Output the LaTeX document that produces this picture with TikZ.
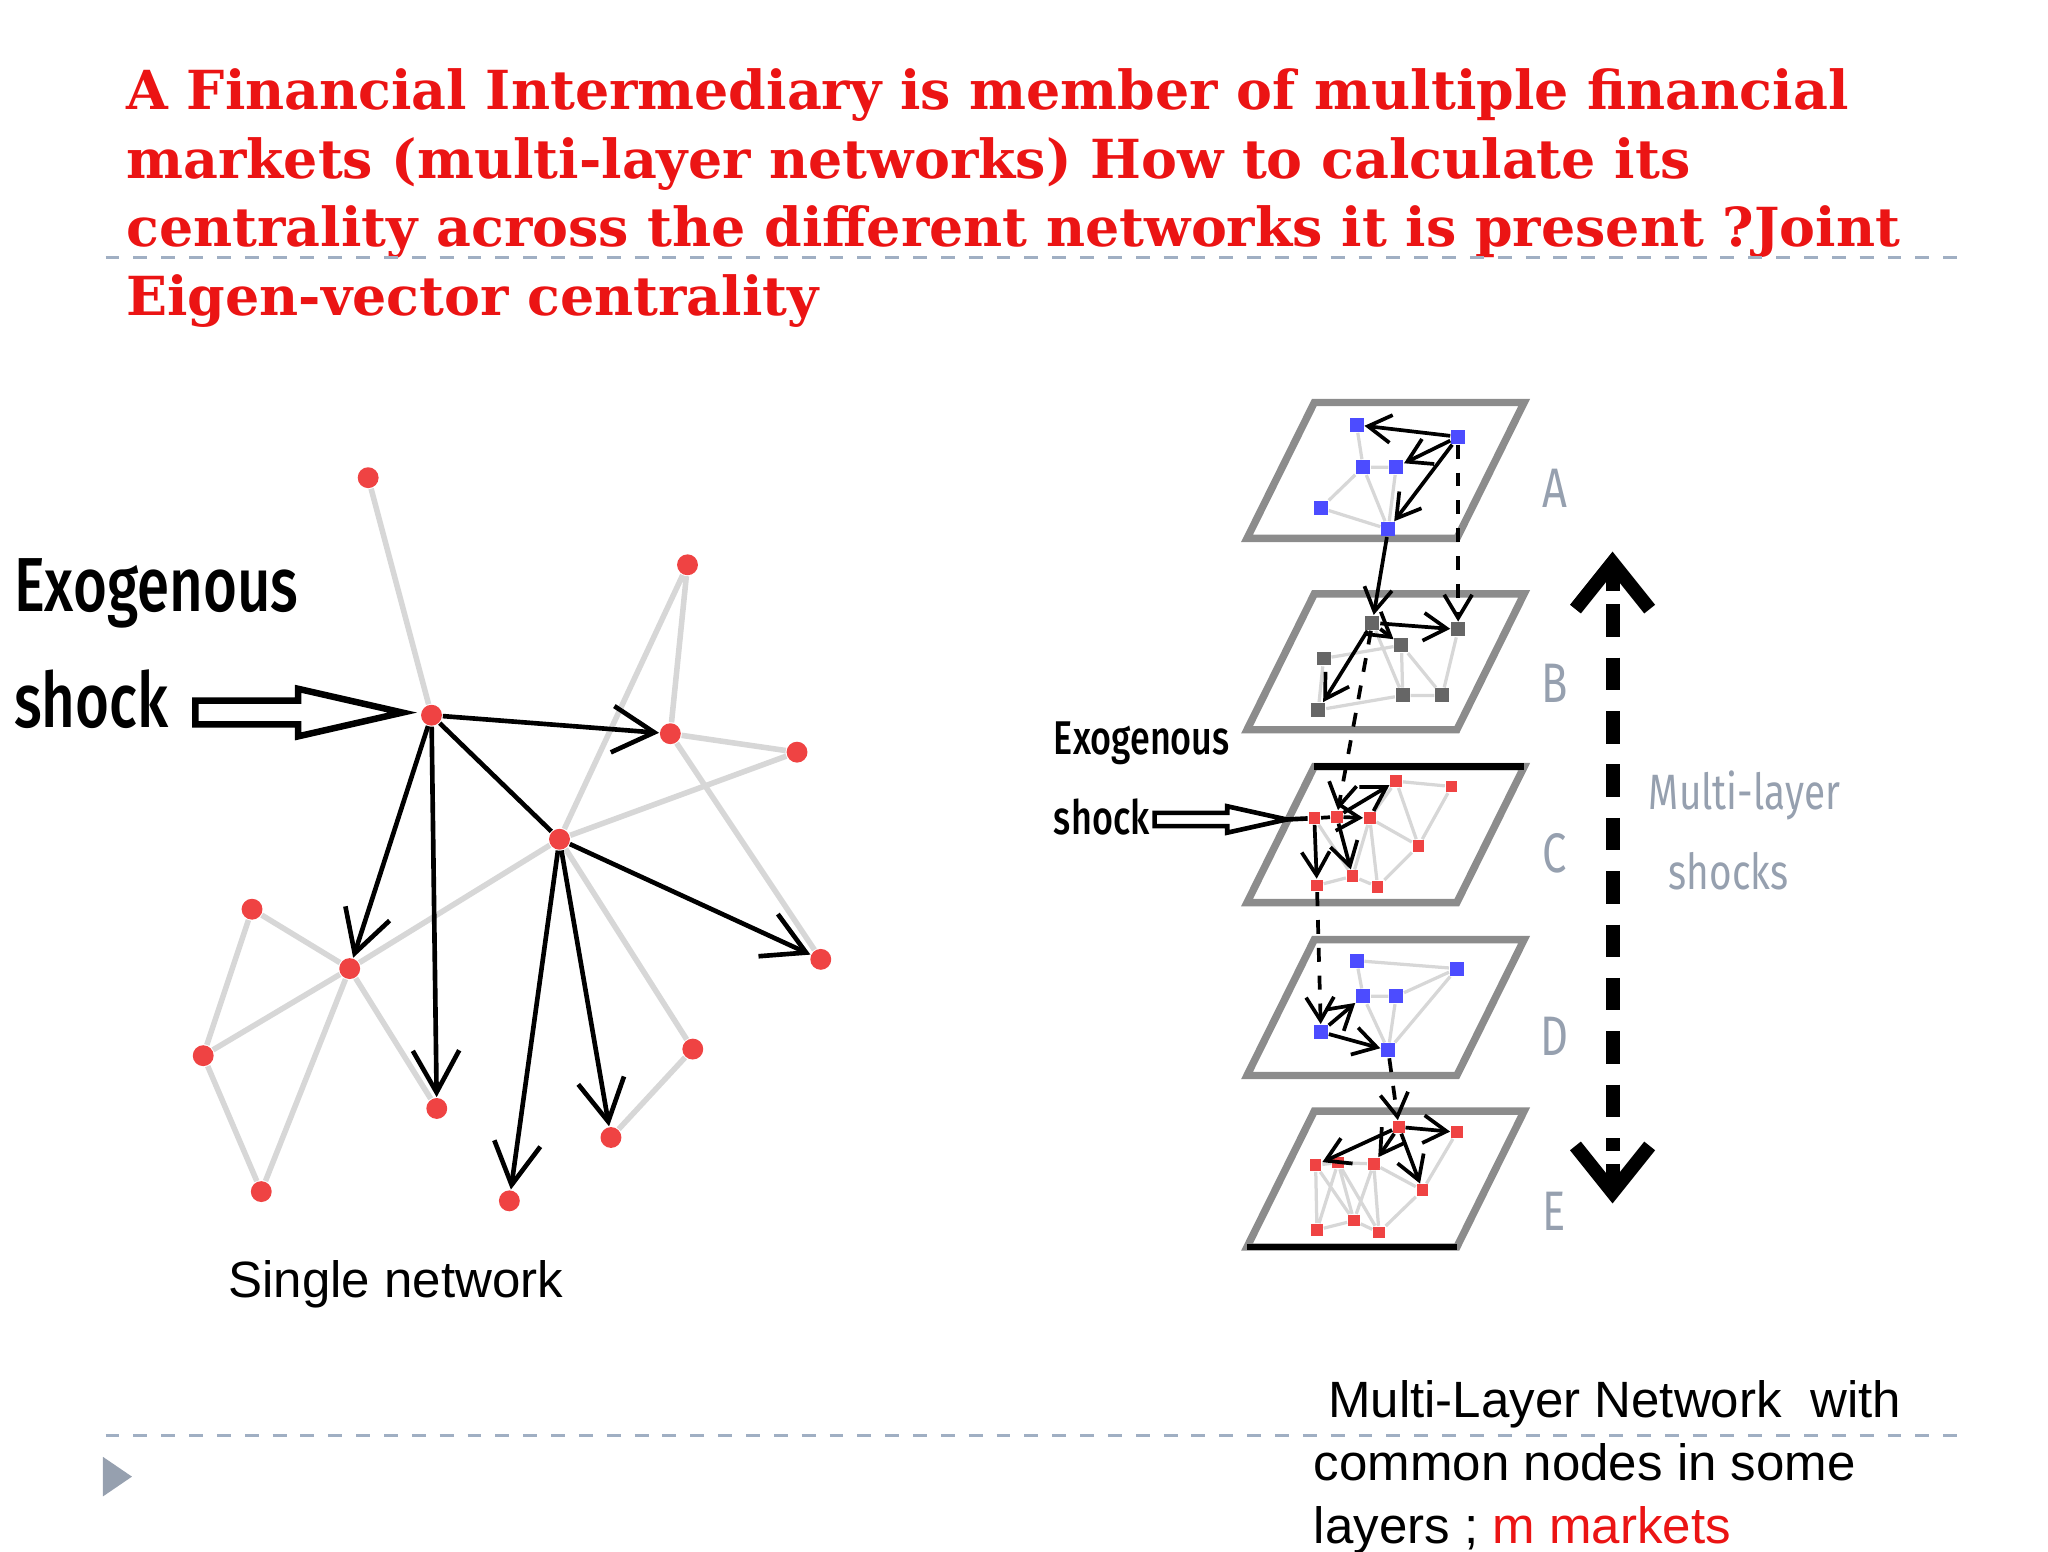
\documentclass[tikz,border=0pt]{standalone}
\usepackage{fontspec}
\setmainfont{Liberation Sans}
\newfontfamily\titlefont{DejaVu Serif}
\newfontfamily\condfont{Fira Sans}[FakeStretch=0.78]
\newfontfamily\condbold{Fira Sans Medium}[FakeStretch=0.76]
\usetikzlibrary{arrows.meta}
\definecolor{tred}{RGB}{235,20,20}
\definecolor{lgrey}{RGB}{215,215,215}
\definecolor{lbl}{RGB}{150,160,175}
\definecolor{dashcol}{RGB}{160,175,195}
\begin{document}
\begin{tikzpicture}[x=0.01cm,y=-0.01cm,
  rn/.style={circle,fill=tred!80!white,inner sep=0pt,minimum size=4.5pt},
  srn/.style={rectangle,fill=tred!80!white,inner sep=0pt,minimum size=2.5pt},
  bn/.style={rectangle,fill=blue!70!white,inner sep=0pt,minimum size=3pt},
  gn/.style={rectangle,fill=black!60,inner sep=0pt,minimum size=3pt},
  ge/.style={draw=lgrey,line width=1.2pt},
  sge/.style={draw=lgrey,line width=0.7pt},
  ar/.style={draw=black,line width=1pt,-{Straight Barb[length=9pt,width=10pt]}},
  sar/.style={draw=black,line width=0.8pt,-{Straight Barb[length=5pt,width=6pt]}},
  dl/.style={draw=black,line width=0.8pt,dashed},
  layer/.style={draw=black!45,line width=1.6pt},
  hollow/.style={draw=black,line width=1.4pt,fill=white}]
\useasboundingbox (0,0) rectangle (1552,1176);
% title
\node[anchor=west,align=left,text=tred,font=\titlefont\bfseries\fontsize{11.6}{14.8}\selectfont,inner sep=0pt] (title) at (95,150)
{A Financial Intermediary is member of multiple financial\\ markets (multi-layer networks) How to calculate its\\ centrality across the different networks it is present ?Joint\\ Eigen-vector centrality};
\coordinate (d1a) at (80,195); \coordinate (d1b) at (1490,195);
\draw[dashcol,dashed,line width=0.6pt] (d1a) -- (d1b);
\coordinate (d2a) at (80,1088); \coordinate (d2b) at (1490,1088);
\draw[dashcol,dashed,line width=0.6pt] (d2a) -- (d2b);
\fill[lbl] (78,1104) -- (100,1119) -- (78,1134) -- cycle;
% single network
\node[rn] (n1) at (279,362) {};
\node[rn] (n2) at (521,428) {};
\node[rn] (hub) at (327,542) {};
\node[rn] (n4) at (508,556) {};
\node[rn] (n5) at (604,570) {};
\node[rn] (h2) at (424,636) {};
\node[rn] (n7) at (191,689) {};
\node[rn] (n8) at (265,734) {};
\node[rn] (n9) at (622,727) {};
\node[rn] (n10) at (154,800) {};
\node[rn] (n11) at (525,795) {};
\node[rn] (n12) at (331,840) {};
\node[rn] (n13) at (463,862) {};
\node[rn] (n14) at (198,903) {};
\node[rn] (n15) at (386,910) {};
\path[ge] (n1)--(hub) (n2)--(n4) (n2)--(h2) (n4)--(n5) (h2)--(n5) (n4)--(n9) (n7)--(n8) (n8)--(n10) (n10)--(n14) (n14)--(n8) (n8)--(h2) (n11)--(n13) (n8)--(n12) (h2)--(n11) (n7)--(n10);
\draw[ar] (hub) -- (n4);
\draw[ar] (hub) -- (n8);
\draw[ar] (hub) -- (n12);
\draw[line width=1pt] (hub) -- (h2);
\draw[ar] (h2) -- (n9);
\draw[ar] (h2) -- (n15);
\draw[ar] (h2) -- (n13);
\node[font=\condbold\fontsize{16.5}{20}\selectfont,anchor=west,inner sep=0pt] (ex1) at (10,450) {Exogenous};
\node[font=\condbold\fontsize{16.5}{20}\selectfont,anchor=west,inner sep=0pt] (sh1) at (10,530) {shock};
\draw[hollow] (148,531) -- (226,531) -- (226,522) -- (305,540) -- (226,558) -- (226,549) -- (148,549) -- cycle;
\node[font=\fontsize{11}{13}\selectfont] (single) at (300,973) {Single network};
% layers
\foreach \t/\n in {305/A,450/B,581/C,712/D,842/E}{
  \pgfmathsetmacro{\b}{\t+103}
  \draw[layer] (996,\t) -- (1155,\t) -- (1104,\b) -- (945,\b) -- cycle;
}
\draw[black,line width=1.4pt] (996,581) -- (1155,581);
\draw[black,line width=1.4pt] (945,945) -- (1104,945);
\foreach \y/\l in {370/A,518/B,647/C,785/D,918/E}
  \node[text=lbl,font=\condfont\fontsize{12}{14}\selectfont] (L\l) at (1178,\y) {\l};
% layer A
\node[bn] (a1) at (1028,322) {}; \node[bn] (a2) at (1105,331) {};
\node[bn] (a3) at (1033,354) {}; \node[bn] (a4) at (1058,354) {};
\node[bn] (a5) at (1001,385) {}; \node[bn] (a6) at (1052,401) {};
\path[sge] (a1)--(a3) (a3)--(a4) (a5)--(a3) (a5)--(a6) (a4)--(a6) (a3)--(a6);
\draw[sar] (a2)--(a1); \draw[sar] (a2)--(a4); \draw[sar] (a2)--(a6);
% layer B
\node[gn] (b1) at (1040,472) {}; \node[gn] (b2) at (1105,477) {};
\node[gn] (b3) at (1062,489) {}; \node[gn] (b4) at (1003,499) {};
\node[gn] (b5) at (999,538) {}; \node[gn] (b6) at (1063,527) {};
\node[gn] (b7) at (1093,527) {};
\path[sge] (b4)--(b5) (b5)--(b6) (b6)--(b7) (b3)--(b6) (b3)--(b7) (b1)--(b6) (b4)--(b3) (b2)--(b7);
\draw[sar] (b1)--(b2); \draw[sar] (b1)--(b5); \draw[sar] (b1)--(b3);
\draw[sar] (a6)--(b1);
\draw[dl,-{Straight Barb[length=5pt,width=6pt]}] (a2)--(b2);
% layer C
\node[srn] (c1) at (996,620) {}; \node[srn] (c2) at (1013,619) {};
\node[srn] (c3) at (1038,620) {}; \node[srn] (c4) at (1058,592) {};
\node[srn] (c5) at (1100,596) {}; \node[srn] (c6) at (1075,641) {};
\node[srn] (c7) at (998,671) {}; \node[srn] (c8) at (1025,664) {};
\node[srn] (c9) at (1044,672) {};
\path[sge] (c4)--(c5) (c3)--(c6) (c5)--(c6) (c7)--(c8) (c8)--(c9) (c3)--(c9) (c4)--(c6) (c1)--(c8) (c3)--(c8) (c9)--(c6) (c4)--(c3);
\draw[dl,-{Straight Barb[length=5pt,width=6pt]}] (b1)--(c2);
\draw[line width=0.8pt] (c1)--(c2);
\draw[sar] (c2)--(c4); \draw[sar] (c2)--(c3); \draw[sar] (c1)--(c7); \draw[sar] (c2)--(c8);
% layer D
\node[bn] (dd1) at (1028,728) {}; \node[bn] (dd2) at (1104,734) {};
\node[bn] (dd3) at (1033,755) {}; \node[bn] (dd4) at (1058,755) {};
\node[bn] (dd5) at (1001,782) {}; \node[bn] (dd6) at (1052,796) {};
\path[sge] (dd1)--(dd2) (dd1)--(dd3) (dd3)--(dd4) (dd4)--(dd6) (dd3)--(dd6) (dd2)--(dd6) (dd4)--(dd2);
\draw[dl,-{Straight Barb[length=5pt,width=6pt]}] (c7)--(dd5);
\draw[sar] (dd5)--(dd3); \draw[sar] (dd5)--(dd6);
% layer E
\node[srn] (e1) at (1060,854) {}; \node[srn] (e2) at (1104,858) {};
\node[srn] (e3) at (997,883) {}; \node[srn] (e4) at (1014,881) {};
\node[srn] (e5) at (1041,882) {}; \node[srn] (e6) at (1078,902) {};
\node[srn] (e7) at (998,932) {}; \node[srn] (e8) at (1026,925) {};
\node[srn] (e9) at (1045,934) {};
\path[sge] (e3)--(e7) (e7)--(e8) (e8)--(e9) (e4)--(e8) (e5)--(e9) (e3)--(e8) (e4)--(e9) (e5)--(e8) (e6)--(e9) (e5)--(e6) (e2)--(e6) (e4)--(e7) (e3)--(e4) (e4)--(e5);
\draw[dl,-{Straight Barb[length=5pt,width=6pt]}] (dd6)--(e1);
\draw[sar] (e1)--(e2); \draw[sar] (e1)--(e3); \draw[sar] (e1)--(e5); \draw[sar] (e1)--(e6);
% exogenous right
\node[font=\condbold\fontsize{10.2}{12}\selectfont,anchor=west,inner sep=0pt] (ex2) at (798,563) {Exogenous};
\node[font=\condbold\fontsize{10.2}{12}\selectfont,anchor=west,inner sep=0pt] (sh2) at (798,619) {shock};
\draw[line width=1pt,fill=white] (875,616) -- (930,616) -- (930,611) -- (975,621) -- (930,631) -- (930,626) -- (875,626) -- cycle;
\coordinate (exend) at (975,621);
\draw[line width=1pt] (exend) -- (c1);
% multi-layer arrow
\coordinate (mt) at (1222,418); \coordinate (mb) at (1222,912);
\draw[line width=3pt,dash pattern=on 7pt off 4.5pt] (1222,458) -- (1222,872);
\draw[line width=3pt,-{Straight Barb[length=10pt,width=16pt]}] (1222,448) -- (mt);
\draw[line width=3pt,-{Straight Barb[length=10pt,width=16pt]}] (1222,882) -- (mb);
\node[text=lbl,font=\condfont\fontsize{10.7}{13}\selectfont] (ml) at (1322,603) {Multi-layer};
\node[text=lbl,font=\condfont\fontsize{10.7}{13}\selectfont] (ms) at (1310,660) {shocks};
\node[anchor=west,align=left,inner sep=0pt,font=\fontsize{11}{13.5}\selectfont] (cap) at (995,1112)
{\ Multi-Layer Network \ with\\ common nodes in some\\ layers ; \textcolor{tred}{m markets}};
\end{tikzpicture}
\end{document}
